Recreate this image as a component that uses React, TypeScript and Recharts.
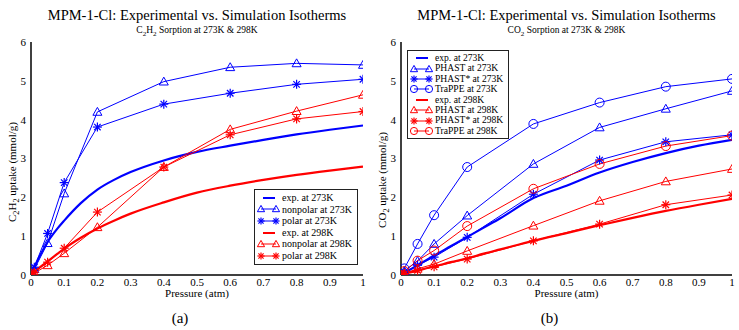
import React from 'react';
import { LineChart, Line, XAxis, YAxis, Legend } from 'recharts';

// ---------- data ----------
const pressureSim = [0, 0.01, 0.05, 0.1, 0.2, 0.4, 0.6, 0.8, 1.0];
const pressureExp = [0, 0.01, 0.02, 0.05, 0.08, 0.1, 0.15, 0.2, 0.25, 0.3, 0.4, 0.5, 0.6, 0.7, 0.8, 0.9, 1.0];

// (a) C2H2
const aExp273 = [0, 0.2, 0.38, 0.85, 1.2, 1.4, 1.85, 2.2, 2.45, 2.65, 2.95, 3.17, 3.33, 3.48, 3.62, 3.74, 3.85];
const aNonpolar273 = [0, 0.15, 0.82, 2.1, 4.2, 4.98, 5.35, 5.45, 5.41];
const aPolar273 = [0, 0.2, 1.07, 2.38, 3.81, 4.4, 4.68, 4.91, 5.04];
const aExp298 = [0, 0.08, 0.15, 0.35, 0.55, 0.68, 0.96, 1.2, 1.4, 1.58, 1.87, 2.12, 2.3, 2.45, 2.58, 2.69, 2.79];
const aNonpolar298 = [0, 0.05, 0.25, 0.56, 1.23, 2.78, 3.75, 4.22, 4.64];
const aPolar298 = [0, 0.07, 0.33, 0.69, 1.62, 2.78, 3.61, 4.02, 4.21];

// (b) CO2
const bExp273 = [0, 0.05, 0.1, 0.25, 0.4, 0.5, 0.74, 0.98, 1.22, 1.46, 1.98, 2.3, 2.64, 2.91, 3.14, 3.33, 3.48];
const bPhast273 = [0, 0.1, 0.36, 0.8, 1.53, 2.86, 3.8, 4.28, 4.74];
const bPhastStar273 = [0, 0.07, 0.25, 0.46, 0.97, 2.08, 2.96, 3.43, 3.61];
const bTrappe273 = [0, 0.17, 0.8, 1.54, 2.78, 3.89, 4.44, 4.85, 5.05];
const bExp298 = [0, 0.02, 0.05, 0.11, 0.18, 0.22, 0.33, 0.43, 0.55, 0.66, 0.88, 1.08, 1.28, 1.47, 1.65, 1.81, 1.96];
const bPhast298 = [0, 0.04, 0.16, 0.28, 0.62, 1.27, 1.91, 2.41, 2.73];
const bPhastStar298 = [0, 0.03, 0.12, 0.21, 0.41, 0.88, 1.31, 1.81, 2.06];
const bTrappe298 = [0, 0.1, 0.37, 0.63, 1.26, 2.22, 2.86, 3.32, 3.59];

const xMajor = [0, 0.1, 0.2, 0.3, 0.4, 0.5, 0.6, 0.7, 0.8, 0.9, 1];
const xMinor = [0.05, 0.15, 0.25, 0.35, 0.45, 0.55, 0.65, 0.75, 0.85, 0.95];
const yMajor = [0, 1, 2, 3, 4, 5, 6];
const yMinor = [0.5, 1.5, 2.5, 3.5, 4.5, 5.5];

const FONT = '"Liberation Serif", "Times New Roman", Times, serif';
const BLUE = '#0000ff';
const RED = '#ff0000';

const toRows = (xs: number[], ys: number[]) => xs.map((p, i) => ({ p, v: ys[i] }));

type Kind = 'none' | 'tri' | 'star' | 'circ';

function Marker({ kind, cx, cy, color, r = 4.5 }: { kind: Kind; cx: number; cy: number; color: string; r?: number }) {
  if (kind === 'tri') {
    const pts = `${cx},${cy - r} ${cx - r},${cy + r * 0.75} ${cx + r},${cy + r * 0.75}`;
    return <polygon points={pts} fill="none" stroke={color} strokeWidth={1} />;
  }
  if (kind === 'circ') {
    return <circle cx={cx} cy={cy} r={r} fill="none" stroke={color} strokeWidth={1} />;
  }
  if (kind === 'star') {
    const d = r * 0.72;
    return (
      <g stroke={color} strokeWidth={1.2}>
        <line x1={cx - r} y1={cy} x2={cx + r} y2={cy} />
        <line x1={cx} y1={cy - r} x2={cx} y2={cy + r} />
        <line x1={cx - d} y1={cy - d} x2={cx + d} y2={cy + d} />
        <line x1={cx - d} y1={cy + d} x2={cx + d} y2={cy - d} />
      </g>
    );
  }
  return null;
}

type Series = { name: string; xs: number[]; ys: number[]; color: string; kind: Kind; exp?: boolean };

const seriesA: Series[] = [
  { name: 'exp. at 273K', xs: pressureExp, ys: aExp273, color: BLUE, kind: 'none', exp: true },
  { name: 'nonpolar at 273K', xs: pressureSim, ys: aNonpolar273, color: BLUE, kind: 'tri' },
  { name: 'polar at 273K', xs: pressureSim, ys: aPolar273, color: BLUE, kind: 'star' },
  { name: 'exp. at 298K', xs: pressureExp, ys: aExp298, color: RED, kind: 'none', exp: true },
  { name: 'nonpolar at 298K', xs: pressureSim, ys: aNonpolar298, color: RED, kind: 'tri' },
  { name: 'polar at 298K', xs: pressureSim, ys: aPolar298, color: RED, kind: 'star' },
];

const seriesB: Series[] = [
  { name: 'exp. at 273K', xs: pressureExp, ys: bExp273, color: BLUE, kind: 'none', exp: true },
  { name: 'PHAST at 273K', xs: pressureSim, ys: bPhast273, color: BLUE, kind: 'tri' },
  { name: 'PHAST* at 273K', xs: pressureSim, ys: bPhastStar273, color: BLUE, kind: 'star' },
  { name: 'TraPPE at 273K', xs: pressureSim, ys: bTrappe273, color: BLUE, kind: 'circ' },
  { name: 'exp. at 298K', xs: pressureExp, ys: bExp298, color: RED, kind: 'none', exp: true },
  { name: 'PHAST at 298K', xs: pressureSim, ys: bPhast298, color: RED, kind: 'tri' },
  { name: 'PHAST* at 298K', xs: pressureSim, ys: bPhastStar298, color: RED, kind: 'star' },
  { name: 'TraPPE at 298K', xs: pressureSim, ys: bTrappe298, color: RED, kind: 'circ' },
];

function LegendBox({ items, rowH, width, fontSize }: { items: Series[]; rowH: number; width: number; fontSize: number }) {
  return (
    <div
      style={{
        border: '1px solid #222',
        background: '#fff',
        width,
        padding: '2px 0 2px 2px',
        boxSizing: 'border-box',
        fontFamily: FONT,
        fontSize,
        color: '#000',
      }}
    >
      {items.map((s) => (
        <div key={s.name} style={{ display: 'flex', alignItems: 'center', height: rowH, lineHeight: `${rowH}px`, whiteSpace: 'nowrap', fontFamily: FONT }}>
          <svg width={23} height={10} style={{ marginRight: 2, flex: 'none' }}>
            {s.exp ? (
              <line x1={6} y1={5} x2={18} y2={5} stroke={s.color} strokeWidth={2} />
            ) : (
              <g>
                <line x1={4} y1={5} x2={19} y2={5} stroke={s.color} strokeWidth={1} />
                <Marker kind={s.kind} cx={4} cy={5} color={s.color} r={3.6} />
                <Marker kind={s.kind} cx={19} cy={5} color={s.color} r={3.6} />
              </g>
            )}
          </svg>
          <span style={{ fontFamily: FONT }}>{s.name}</span>
        </div>
      ))}
    </div>
  );
}

const tickStyle = { fontSize: 11, fill: '#000', fontFamily: FONT, style: { fontFamily: FONT } };
const AX = '#000';

function frameAxes() {
  return [
    <XAxis key="x" xAxisId="x" dataKey="p" type="number" domain={[0, 1]} ticks={xMajor} interval={0}
      height={15} tickSize={0} tickMargin={3} tickLine={false}
      axisLine={{ stroke: AX, strokeWidth: 1.5 }} tick={tickStyle}
      tickFormatter={(v: number) => String(v)} allowDataOverflow />,
    <XAxis key="xbM" xAxisId="xbM" dataKey="p" type="number" domain={[0, 1]} ticks={xMajor} interval={0}
      orientation="bottom" mirror height={0} tickSize={6} tick={false} axisLine={false}
      tickLine={{ stroke: AX, strokeWidth: 1.2 }} />,
    <XAxis key="xbm" xAxisId="xbm" dataKey="p" type="number" domain={[0, 1]} ticks={xMinor} interval={0}
      orientation="bottom" mirror height={0} tickSize={3} tick={false} axisLine={false}
      tickLine={{ stroke: AX, strokeWidth: 1.2 }} />,
    <XAxis key="xtM" xAxisId="xtM" dataKey="p" type="number" domain={[0, 1]} ticks={xMajor} interval={0}
      orientation="top" mirror height={0} tickSize={6} tick={false}
      axisLine={{ stroke: AX, strokeWidth: 1.5 }} tickLine={{ stroke: AX, strokeWidth: 1.2 }} />,
    <XAxis key="xtm" xAxisId="xtm" dataKey="p" type="number" domain={[0, 1]} ticks={xMinor} interval={0}
      orientation="top" mirror height={0} tickSize={3} tick={false} axisLine={false}
      tickLine={{ stroke: AX, strokeWidth: 1.2 }} />,
    <YAxis key="y" yAxisId="y" type="number" domain={[0, 6]} ticks={yMajor} interval={0}
      width={31} tickSize={0} tickMargin={5} tickLine={false}
      axisLine={{ stroke: AX, strokeWidth: 1.5 }} tick={tickStyle} allowDataOverflow />,
    <YAxis key="ylM" yAxisId="ylM" type="number" domain={[0, 6]} ticks={yMajor} interval={0}
      orientation="left" mirror width={0} tickSize={6} tick={false} axisLine={false}
      tickLine={{ stroke: AX, strokeWidth: 1.2 }} />,
    <YAxis key="ylm" yAxisId="ylm" type="number" domain={[0, 6]} ticks={yMinor} interval={0}
      orientation="left" mirror width={0} tickSize={3} tick={false} axisLine={false}
      tickLine={{ stroke: AX, strokeWidth: 1.2 }} />,
    <YAxis key="yrM" yAxisId="yrM" type="number" domain={[0, 6]} ticks={yMajor} interval={0}
      orientation="right" mirror width={0} tickSize={6} tick={false}
      axisLine={{ stroke: AX, strokeWidth: 1.5 }} tickLine={{ stroke: AX, strokeWidth: 1.2 }} />,
    <YAxis key="yrm" yAxisId="yrm" type="number" domain={[0, 6]} ticks={yMinor} interval={0}
      orientation="right" mirror width={0} tickSize={3} tick={false} axisLine={false}
      tickLine={{ stroke: AX, strokeWidth: 1.2 }} />,
  ];
}

function seriesLines(list: Series[]) {
  return list.map((s) => (
    <Line
      key={s.name}
      xAxisId="x"
      yAxisId="y"
      data={toRows(s.xs, s.ys)}
      dataKey="v"
      name={s.name}
      type={s.exp ? 'monotone' : 'linear'}
      stroke={s.color}
      strokeWidth={s.exp ? 2.2 : 1}
      isAnimationActive={false}
      activeDot={false}
      dot={
        s.kind === 'none'
          ? false
          : (p: any) => (
              <g key={`${s.name}-${p.index}`}>
                {p.cx != null && p.cy != null ? <Marker kind={s.kind} cx={p.cx} cy={p.cy} color={s.color} /> : null}
              </g>
            )
      }
    />
  ));
}

const MARGIN = { top: 42, right: 7, bottom: 40, left: 0 };

function Panel({
  left, width, title, sub, yLabel, list, legendPos, rowH, legendW, legendFont, letter, yLabelCenter,
}: any) {
  const plotCenter = 31 + (width - 7 - 31) / 2;
  return (
    <div style={{ position: 'absolute', left, top: 0, width, height: 330, fontFamily: FONT }}>
      <LineChart width={width} height={330} margin={MARGIN} style={{ fontFamily: FONT }}>
        {frameAxes()}
        {seriesLines(list)}
        <Legend
          layout="horizontal"
          verticalAlign="middle"
          align="center"
          wrapperStyle={{ left: legendPos[0], top: legendPos[1], width: legendW }}
          content={() => <LegendBox items={list} rowH={rowH} width={legendW} fontSize={legendFont} />}
        />
      </LineChart>
      <div style={{ position: 'absolute', left: plotCenter - 200, width: 400, top: 6, textAlign: 'center',
        fontFamily: FONT, fontSize: 14.5, color: '#000', lineHeight: '18px' }}>{title}</div>
      <div style={{ position: 'absolute', left: plotCenter - 200, width: 400, top: 24, textAlign: 'center',
        fontFamily: FONT, fontSize: 9.5, color: '#000', lineHeight: '12px' }}>{sub}</div>
      <div style={{ position: 'absolute', left: 12 - 80, top: yLabelCenter - 8, width: 160, height: 16,
        textAlign: 'center', transform: 'rotate(-90deg)', fontFamily: FONT, fontSize: 11, color: '#000',
        lineHeight: '16px', whiteSpace: 'nowrap' }}>{yLabel}</div>
      <div style={{ position: 'absolute', left: plotCenter - 100, width: 200, top: 287, textAlign: 'center',
        fontFamily: FONT, fontSize: 11, color: '#000', lineHeight: '13px' }}>Pressure (atm)</div>
      <div style={{ position: 'absolute', left: plotCenter - 17 - 50, width: 100, top: 309, textAlign: 'center',
        fontFamily: FONT, fontSize: 15, color: '#000', lineHeight: '18px' }}>{letter}</div>
    </div>
  );
}

export default function App() {
  return (
    <div style={{ position: 'absolute', left: 0, top: 0, width: 739, height: 330, background: '#fff', overflow: 'hidden', fontFamily: FONT }}>
      <Panel
        left={0}
        width={370}
        title="MPM-1-Cl: Experimental vs. Simulation Isotherms"
        sub={<span>C<sub style={{ fontSize: '0.75em' }}>2</sub>H<sub style={{ fontSize: '0.75em' }}>2</sub> Sorption at 273K &amp; 298K</span>}
        yLabel={<span>C<sub style={{ fontSize: '0.75em' }}>2</sub>H<sub style={{ fontSize: '0.75em' }}>2</sub> uptake (mmol/g)</span>}
        yLabelCenter={172}
        list={seriesA}
        legendPos={[254, 189]}
        rowH={11.6}
        legendW={104}
        legendFont={10}
        letter="(a)"
      />
      <Panel
        left={370}
        width={369}
        title="MPM-1-Cl: Experimental vs. Simulation Isotherms"
        sub={<span>CO<sub style={{ fontSize: '0.75em' }}>2</sub> Sorption at 273K &amp; 298K</span>}
        yLabel={<span>CO<sub style={{ fontSize: '0.75em' }}>2</sub> uptake (mmol/g)</span>}
        yLabelCenter={180}
        list={seriesB}
        legendPos={[37, 50]}
        rowH={10.4}
        legendW={102}
        legendFont={9.6}
        letter="(b)"
      />
    </div>
  );
}
